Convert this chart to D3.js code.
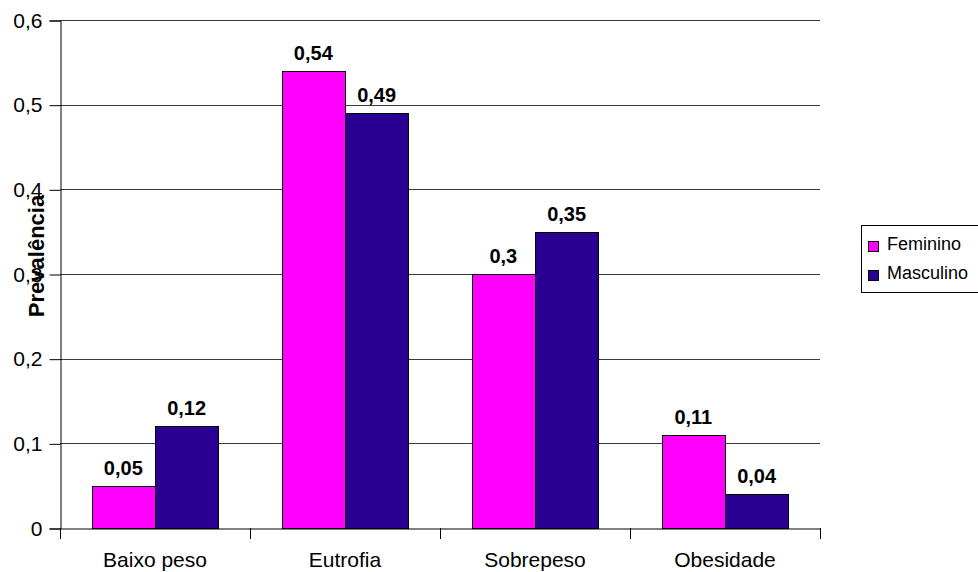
<!DOCTYPE html>
<html>
<head>
<meta charset="utf-8">
<script src="https://cdn.jsdelivr.net/npm/d3@7/dist/d3.min.js"></script>
<style>
  html, body { margin: 0; padding: 0; background: #fff; }
  svg { display: block; font-family: "Liberation Sans", Arial, sans-serif; }
</style>
</head>
<body>
<svg id="chart" width="978" height="572"></svg>
<script>
// Prevalência do estado nutricional por sexo
const categories = ["Baixo peso", "Eutrofia", "Sobrepeso", "Obesidade"];
const seriesNames = ["Feminino", "Masculino"];
const feminino = [0.05, 0.54, 0.30, 0.11];
const masculino = [0.12, 0.49, 0.35, 0.04];
const yTicks = [0, 0.1, 0.2, 0.3, 0.4, 0.5, 0.6];
const colors = ["#FF00FF", "#2A0092"];

const svg = d3.select("#chart");
const plotLeft = 60, plotRight = 820, plotTop = 20, plotBottom = 528;
const fontFamily = "'Liberation Sans', Arial, sans-serif";
const fmt = v => String(+v.toFixed(2)).replace(".", ",");

const x = d3.scaleBand().domain(categories).range([plotLeft, plotRight]).paddingInner(0).paddingOuter(0);
const xs = d3.scaleBand().domain(seriesNames).range([0, x.bandwidth()]).paddingInner(0).paddingOuter(0.5);
const y = d3.scaleLinear().domain([0, 0.6]).range([plotBottom, plotTop]);

// horizontal gridlines
svg.append("g").selectAll("line").data(yTicks.filter(t => t > 0)).join("line")
  .attr("x1", plotLeft).attr("x2", plotRight)
  .attr("y1", d => Math.round(y(d)) + 0.5).attr("y2", d => Math.round(y(d)) + 0.5)
  .attr("stroke", "#3a3a3a").attr("stroke-width", 1);

// y axis
const yAxis = d3.axisLeft(y).tickValues(yTicks).tickSize(11).tickPadding(7).tickFormat(fmt);
const gy = svg.append("g").attr("transform", `translate(${plotLeft + 0.5},0.5)`).call(yAxis);
gy.select(".domain").attr("stroke", "#000");
gy.selectAll(".tick line").attr("stroke", "#000");
gy.selectAll(".tick text").attr("font-size", 21).attr("fill", "#000")
  .attr("font-family", fontFamily);

// bars
const data = categories.map((c, i) => ({ cat: c, values: [feminino[i], masculino[i]] }));
const groups = svg.append("g").selectAll("g").data(data).join("g")
  .attr("transform", d => `translate(${x(d.cat)},0)`);

groups.selectAll("rect").data(d => d.values.map((v, j) => ({ v, j }))).join("rect")
  .attr("x", d => Math.round(xs(seriesNames[d.j])) + 0.5)
  .attr("y", d => Math.round(y(d.v)) + 0.5)
  .attr("width", Math.round(xs.bandwidth()))
  .attr("height", d => plotBottom - Math.round(y(d.v)))
  .attr("fill", d => colors[d.j])
  .attr("stroke", "#000").attr("stroke-width", 1);

// value labels
groups.selectAll("text").data(d => d.values.map((v, j) => ({ v, j }))).join("text")
  .attr("x", d => xs(seriesNames[d.j]) + xs.bandwidth() / 2)
  .attr("y", d => y(d.v) - 11)
  .attr("text-anchor", "middle")
  .attr("font-size", 20).attr("font-weight", "bold").attr("fill", "#000")
  .text(d => fmt(d.v));

// x axis
const xAxis = d3.axisBottom(x).tickSize(0).tickPadding(24);
const gx = svg.append("g").attr("transform", `translate(0,${plotBottom + 0.5})`).call(xAxis);
gx.select(".domain").attr("stroke", "#000");
gx.selectAll(".tick text").attr("font-size", 21).attr("fill", "#000")
  .attr("font-family", fontFamily);
// category separators below the axis
svg.append("g").selectAll("line").data(d3.range(categories.length + 1)).join("line")
  .attr("x1", i => Math.round(plotLeft + i * x.bandwidth()) + 0.5)
  .attr("x2", i => Math.round(plotLeft + i * x.bandwidth()) + 0.5)
  .attr("y1", plotBottom).attr("y2", plotBottom + 11)
  .attr("stroke", "#000");

// y axis title
svg.append("text")
  .attr("transform", `translate(44,256) rotate(-90)`)
  .attr("text-anchor", "middle")
  .attr("font-size", 22).attr("font-weight", "bold").attr("fill", "#000")
  .text("Prevalência");

// legend
const lg = svg.append("g");
lg.append("rect").attr("x", 861.5).attr("y", 225.5).attr("width", 130).attr("height", 67)
  .attr("fill", "#fff").attr("stroke", "#000");
seriesNames.forEach((s, i) => {
  const ly = 246 + i * 29;
  lg.append("rect").attr("x", 868.5).attr("y", ly - 4.5).attr("width", 10).attr("height", 10)
    .attr("fill", colors[i]).attr("stroke", "#000");
  lg.append("text").attr("x", 887).attr("y", ly + 4)
    .attr("font-size", 18).attr("fill", "#000").text(s);
});
</script>
</body>
</html>
